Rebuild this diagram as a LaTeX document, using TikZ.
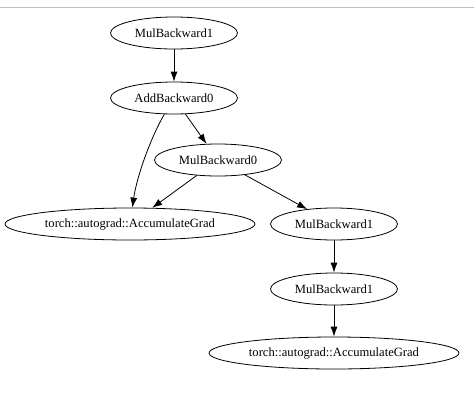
\documentclass[tikz,border=0pt]{standalone}
\usepackage{fontspec}
\setmainfont{Liberation Serif}
\usetikzlibrary{shapes.geometric,arrows.meta}

\begin{document}
\begin{tikzpicture}[x=1pt,y=-1pt,
	gnode/.style={shape=ellipse,draw=black,line width=0.8pt,inner sep=0pt,minimum width=127pt,minimum height=32pt,font=\fontsize{12.6}{15}\selectfont},
	wide/.style={gnode,minimum width=250pt},
	arr/.style={-{Latex[length=10pt,width=7pt]},line width=0.8pt}]

	\useasboundingbox (0,0) rectangle (474,408);
	\draw[black!25,line width=1pt] (0,7) -- (474,7);

	\node[gnode] (mul1a) at (174, 33)     {MulBackward1};
	\node[gnode] (add0) at (174, 98)      {AddBackward0};
	\node[gnode] (mul0) at (218, 160)     {MulBackward0};
	\node[wide]  (accA) at (130, 224)     {torch::autograd::AccumulateGrad};
	\node[gnode] (mul1b) at (334, 224)    {MulBackward1};
	\node[gnode] (mul1c) at (334, 289)    {MulBackward1};
	\node[wide]  (accB) at (334, 353)     {torch::autograd::AccumulateGrad};

	\path[arr] (mul1a) edge (add0);
	\draw[arr] (add0) .. controls (152,135) and (137,175) .. (accA);
	\path[arr] (add0) edge (mul0);
	\path[arr] (mul0) edge (accA);
	\path[arr] (mul0) edge (mul1b);
	\path[arr] (mul1b) edge (mul1c);
	\path[arr] (mul1c) edge (accB);
\end{tikzpicture}
\end{document}
